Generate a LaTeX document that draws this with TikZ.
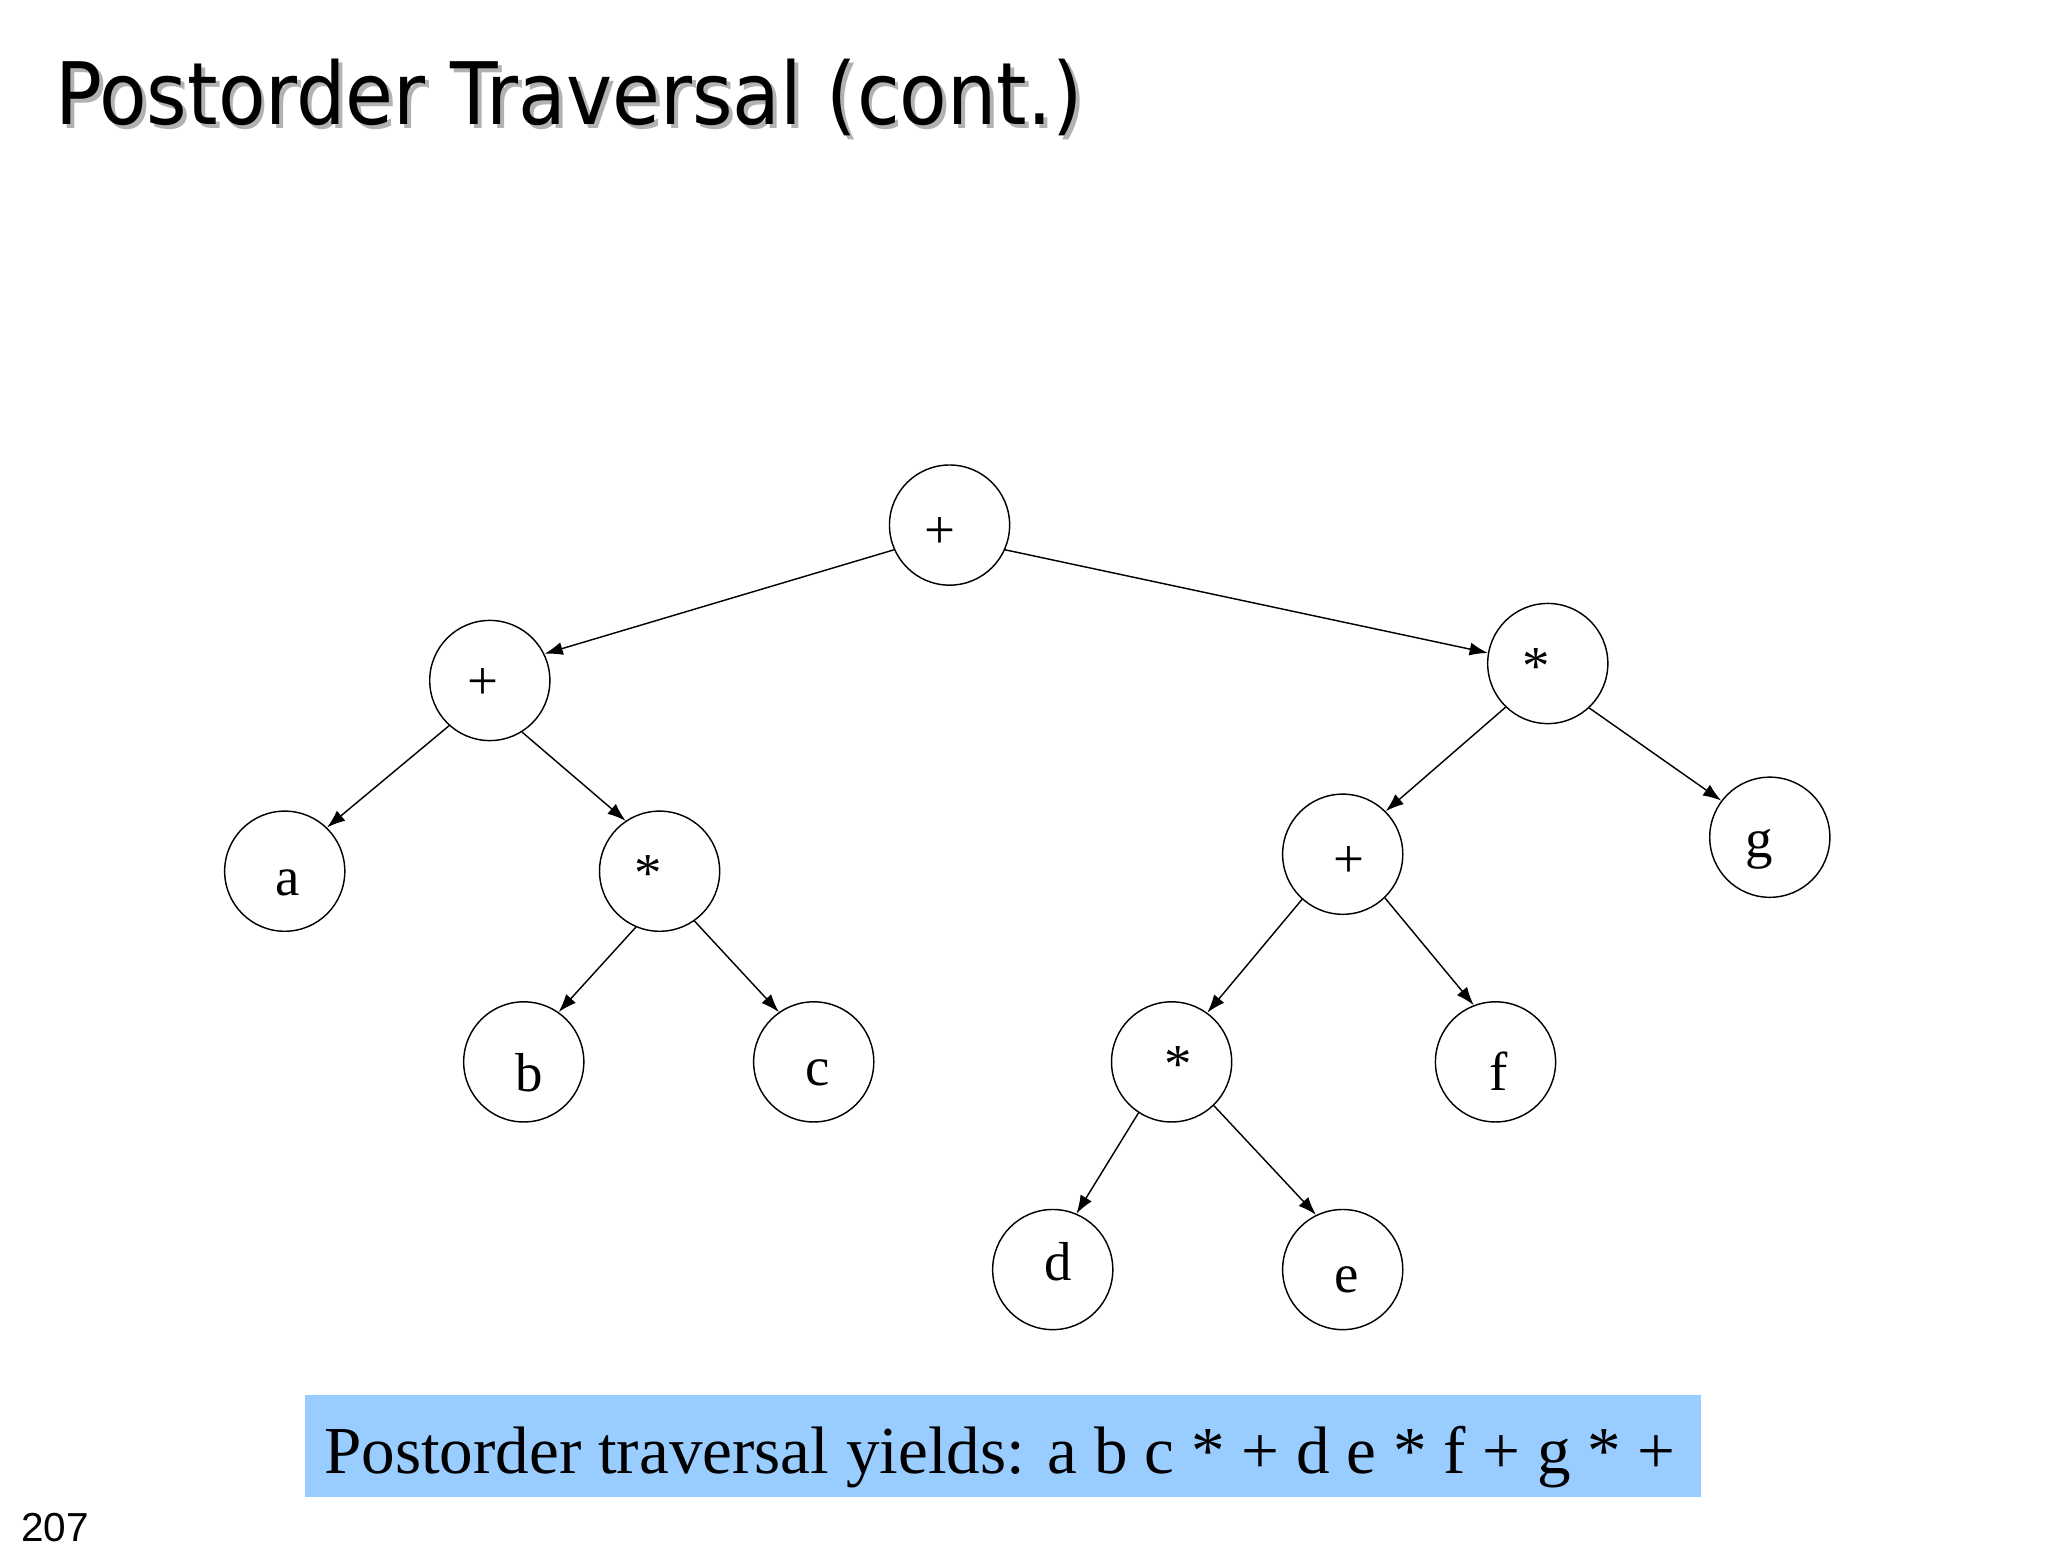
\documentclass[tikz,border=0pt]{standalone}
\usepackage{fontspec}
\setmainfont{Liberation Serif}
\newfontfamily\titlefont[FakeStretch=0.903]{DejaVu Sans}
\newfontfamily\numfont{Liberation Sans}
\usetikzlibrary{arrows.meta,calc}
\definecolor{boxblue}{HTML}{99CCFF}
\begin{document}
\begin{tikzpicture}[x=1pt,y=1pt,
  tnode/.style={circle,draw,line width=1.1pt,minimum size=92pt,inner sep=0pt},
  tlabel/.style={font=\fontsize{42}{42}\selectfont,inner sep=0pt},
  edge/.style={line width=1.1pt,-{Latex[length=14pt,width=10pt]}}]
\useasboundingbox (0,0) rectangle (1568,-1194.4);
% title with shadow
\node[anchor=base west,inner sep=0pt,text=black!30,font=\titlefont\fontsize{66}{66}\selectfont] (titleshadow) at (45,-98) {Postorder Traversal (cont.)};
\node[anchor=base west,inner sep=0pt,font=\titlefont\fontsize{66}{66}\selectfont] (title) at (42,-95) {Postorder Traversal (cont.)};
% tree nodes
\node[tnode] (r)  at (727,-402) {};
\node[tnode] (lp) at (375,-521) {};
\node[tnode] (rs) at (1185,-508) {};
\node[tnode] (na) at (218,-667) {};
\node[tnode] (ls) at (505,-667) {};
\node[tnode] (nb) at (401,-813) {};
\node[tnode] (nc) at (623,-813) {};
\node[tnode] (rp) at (1028,-654) {};
\node[tnode] (ng) at (1355,-641) {};
\node[tnode] (bs) at (897,-813) {};
\node[tnode] (nf) at (1145,-813) {};
\node[tnode] (nd) at (806,-972) {};
\node[tnode] (ne) at (1028,-972) {};
% labels
\node[tlabel] (tr)  at (720,-408) {+};
\node[tlabel] (tlp) at (370,-524) {+};
\node[tlabel] (trs) at (1176,-510) {*};
\node[tlabel] (ta)  at (220,-676) {a};
\node[tlabel] (tls) at (496,-669) {*};
\node[tlabel] (tb)  at (405,-821) {b};
\node[tlabel] (tc)  at (626,-821) {c};
\node[tlabel] (trp) at (1033,-660) {+};
\node[tlabel] (tg)  at (1347,-650) {g};
\node[tlabel] (tbs) at (902,-815) {*};
\node[tlabel] (tf)  at (1147,-820) {f};
\node[tlabel] (td)  at (810,-966) {d};
\node[tlabel] (te)  at (1031,-980) {e};
% edges
\draw[edge] (r.204) -- (lp.26);
\draw[edge] (r.336) -- (rs.170);
\draw[edge] (lp.228) -- (na.46);
\draw[edge] (lp.302) -- (ls.124);
\draw[edge] (ls.247) -- (nb.55);
\draw[edge] (ls.305) -- (nc.125);
\draw[edge] (rs.226) -- (rp.45);
\draw[edge] (rs.313) -- (ng.143);
\draw[edge] (rp.228) -- (bs.54);
\draw[edge] (rp.314) -- (nf.111);
\draw[edge] (bs.237) -- (nd.67);
\draw[edge] (bs.314) -- (ne.116);
% result box
\node[fill=boxblue,anchor=north west,minimum width=1069pt,minimum height=78pt,inner sep=0pt] (box) at (233,-1068) {};
\node[anchor=base west,inner sep=0pt,font=\fontsize{51.4}{52}\selectfont] (result) at (248,-1128) {Postorder traversal yields: a b c * + d e * f + g * +};
% page number
\node[anchor=base west,inner sep=0pt,font=\numfont\fontsize{31}{31}\selectfont] (pagenum) at (16,-1180) {207};
\end{tikzpicture}
\end{document}
